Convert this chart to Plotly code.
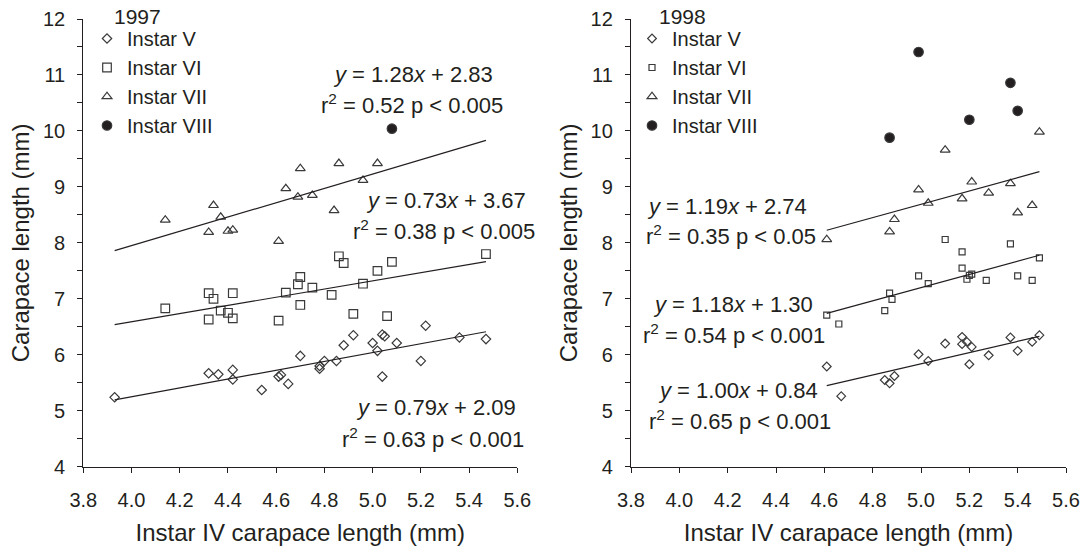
import plotly.graph_objects as go
from plotly.subplots import make_subplots

# ---------------- data: 1997 ----------------
v97_x = [3.93, 4.32, 4.36, 4.42, 4.42, 4.54, 4.61, 4.62, 4.65, 4.70, 4.78, 4.78, 4.80, 4.85,
         4.88, 4.92, 5.00, 5.02, 5.04, 5.05, 5.04, 5.10, 5.20, 5.22, 5.36, 5.47]
v97_y = [5.24, 5.67, 5.65, 5.73, 5.56, 5.37, 5.61, 5.64, 5.48, 5.98, 5.80, 5.75, 5.89, 5.89,
         6.17, 6.35, 6.21, 6.07, 6.36, 6.33, 5.61, 6.21, 5.89, 6.52, 6.31, 6.28]
vi97_x = [4.14, 4.32, 4.34, 4.42, 4.37, 4.40, 4.32, 4.42, 4.61, 4.64, 4.70, 4.69, 4.75, 4.70,
          4.83, 4.86, 4.88, 4.96, 4.92, 5.02, 5.08, 5.06, 5.47]
vi97_y = [6.83, 7.10, 7.00, 7.10, 6.79, 6.75, 6.63, 6.65, 6.61, 7.11, 7.39, 7.26, 7.20, 6.89,
          7.07, 7.76, 7.64, 7.27, 6.73, 7.50, 7.66, 6.69, 7.80]
vii97_x = [4.14, 4.34, 4.37, 4.32, 4.40, 4.42, 4.61, 4.64, 4.69, 4.75, 4.84, 4.96, 4.70, 4.86, 5.02]
vii97_y = [8.41, 8.67, 8.46, 8.19, 8.21, 8.23, 8.03, 8.97, 8.82, 8.85, 8.58, 9.12, 9.33, 9.42, 9.42]
viii97_x = [5.08]
viii97_y = [10.04]

# ---------------- data: 1998 ----------------
v98_x = [4.61, 4.67, 4.85, 4.87, 4.89, 4.99, 5.03, 5.10, 5.17, 5.17, 5.19, 5.21, 5.20, 5.28,
         5.37, 5.40, 5.46, 5.49]
v98_y = [5.79, 5.26, 5.55, 5.49, 5.62, 6.01, 5.89, 6.20, 6.32, 6.19, 6.23, 6.14, 5.83, 5.99,
         6.31, 6.07, 6.23, 6.35]
vi98_x = [4.61, 4.66, 4.85, 4.87, 4.88, 4.99, 5.03, 5.10, 5.17, 5.17, 5.19, 5.20, 5.21, 5.27,
          5.37, 5.40, 5.46, 5.49]
vi98_y = [6.71, 6.55, 6.79, 7.10, 6.99, 7.41, 7.27, 8.06, 7.84, 7.55, 7.35, 7.42, 7.44, 7.33,
          7.98, 7.41, 7.33, 7.73]
vii98_x = [4.61, 4.87, 4.89, 5.03, 4.99, 5.17, 5.28, 5.21, 5.37, 5.40, 5.46, 5.10, 5.49]
vii98_y = [8.06, 8.20, 8.42, 8.71, 8.95, 8.79, 8.89, 9.09, 9.06, 8.54, 8.67, 9.66, 9.98]
viii98_x = [4.87, 4.99, 5.20, 5.37, 5.40]
viii98_y = [9.88, 11.41, 10.20, 10.86, 10.36]

# regression lines (slope, intercept) and fitted x-range
fits97 = {"V": (0.79, 2.09), "VI": (0.73, 3.67), "VII": (1.28, 2.83)}
fits98 = {"V": (1.00, 0.84), "VI": (1.18, 1.30), "VII": (1.19, 2.74)}
fit_range97 = [3.93, 5.47]
fit_range98 = [4.61, 5.49]

x_ticks = [3.8, 4.0, 4.2, 4.4, 4.6, 4.8, 5.0, 5.2, 5.4, 5.6]
x_ticklabels = ["3.8", "4.0", "4.2", "4.4", "4.6", "4.8", "5.0", "5.2", "5.4", "5.6"]
y_ticks = [4, 5, 6, 7, 8, 9, 10, 11, 12]

FONT = "Liberation Sans, Arial, Helvetica, sans-serif"
INK = "#231f20"
MLINE = "#3a3a3a"

fig = make_subplots(rows=1, cols=2)

def add_panel(col, legend, data, sizes):
    names = ["Instar V", "Instar VI", "Instar VII", "Instar VIII"]
    symbols = ["diamond-open", "square-open", "triangle-up-open", "circle"]
    for (xs, ys), name, sym, sz in zip(data, names, symbols, sizes):
        fig.add_trace(go.Scatter(
            x=xs, y=ys, mode="markers", name=name, legend=legend,
            marker=dict(symbol=sym, size=sz, color=INK if sym == "circle" else MLINE,
                        line=dict(width=1.2, color=MLINE)),
        ), row=1, col=col)

add_panel(1, "legend", [(v97_x, v97_y), (vi97_x, vi97_y), (vii97_x, vii97_y), (viii97_x, viii97_y)],
          [7.2, 8.6, 8.6, 9.5])
add_panel(2, "legend2", [(v98_x, v98_y), (vi98_x, vi98_y), (vii98_x, vii98_y), (viii98_x, viii98_y)],
          [6.7, 6.0, 8.6, 9.5])

for col, fits, rng in [(1, fits97, fit_range97), (2, fits98, fit_range98)]:
    for k, (m, b) in fits.items():
        fig.add_trace(go.Scatter(
            x=rng, y=[m * rng[0] + b, m * rng[1] + b], mode="lines",
            line=dict(color=INK, width=1.2), showlegend=False, hoverinfo="skip",
        ), row=1, col=col)

# equation annotations
eqs = [
    ("x", "y", 5.168, 11.01, "<i>y</i> = 1.28<i>x</i> + 2.83"),
    ("x", "y", 5.164, 10.48, "r<sup>2</sup> = 0.52 p < 0.005"),
    ("x", "y", 5.305, 8.76, "<i>y</i> = 0.73<i>x</i> + 3.67"),
    ("x", "y", 5.297, 8.23, "r<sup>2</sup> = 0.38 p < 0.005"),
    ("x", "y", 5.263, 5.05, "<i>y</i> = 0.79<i>x</i> + 2.09"),
    ("x", "y", 5.250, 4.51, "r<sup>2</sup> = 0.63 p < 0.001"),
    ("x2", "y2", 4.198, 8.65, "<i>y</i> = 1.19<i>x</i> + 2.74"),
    ("x2", "y2", 4.215, 8.14, "r<sup>2</sup> = 0.35 p < 0.05"),
    ("x2", "y2", 4.223, 6.90, "<i>y</i> = 1.18<i>x</i> + 1.30"),
    ("x2", "y2", 4.227, 6.38, "r<sup>2</sup> = 0.54 p < 0.001"),
    ("x2", "y2", 4.244, 5.37, "<i>y</i> = 1.00<i>x</i> + 0.84"),
    ("x2", "y2", 4.252, 4.83, "r<sup>2</sup> = 0.65 p < 0.001"),
]
for xr, yr, x, y, t in eqs:
    fig.add_annotation(xref=xr, yref=yr, x=x, y=y, text=t, showarrow=False,
                       xanchor="center", yanchor="middle",
                       font=dict(family=FONT, size=22, color=INK))

W, H = 1087, 546

# panel year labels
for xp, t in [(112, "1997"), (657, "1998")]:
    fig.add_annotation(xref="paper", yref="paper", x=xp / W, y=1 - 16 / H, text=t,
                       showarrow=False, xanchor="left", yanchor="middle",
                       font=dict(family=FONT, size=21, color=INK))

y_dom = [(H - 466.7) / H, (H - 19) / H]
xd1 = [83.3 / W, 517.3 / W]
xd2 = [631 / W, 1066 / W]

axis_common = dict(showline=True, linecolor=INK, linewidth=1.3, mirror=False,
                   ticks="outside", ticklen=5, tickwidth=1.2, tickcolor=INK,
                   showgrid=False, zeroline=False, automargin=False,
                   tickfont=dict(family=FONT, size=20, color=INK))

for i, xd in [(1, xd1), (2, xd2)]:
    fig.update_xaxes(row=1, col=i, domain=xd, range=[3.8, 5.6],
                     tickvals=x_ticks, ticktext=x_ticklabels, ticklabelstandoff=10,
                     title=dict(text="Instar IV carapace length (mm)", standoff=16,
                                font=dict(family=FONT, size=24, color=INK)),
                     **axis_common)
    fig.update_yaxes(row=1, col=i, domain=y_dom, range=[4, 12], tickvals=y_ticks,
                     ticklabelstandoff=8,
                     minor=dict(dtick=0.5, tick0=4, ticks="outside", ticklen=5,
                                tickwidth=1.2, tickcolor=INK),
                     title=dict(text="Carapace length (mm)", standoff=6,
                                font=dict(family=FONT, size=24, color=INK)),
                     **axis_common)

legend_common = dict(font=dict(family=FONT, size=20, color=INK), bgcolor="rgba(0,0,0,0)",
                     borderwidth=0, itemwidth=30, tracegroupgap=0, yanchor="top",
                     xanchor="left", itemsizing="trace")
fig.update_layout(
    width=W, height=H, margin=dict(l=0, r=0, t=0, b=0),
    plot_bgcolor="white", paper_bgcolor="white",
    showlegend=True,
    legend=dict(x=87 / W, y=1 - 19 / H, **legend_common),
    legend2=dict(x=632 / W, y=1 - 19 / H, **legend_common),
)

fig.write_html("out.html")
